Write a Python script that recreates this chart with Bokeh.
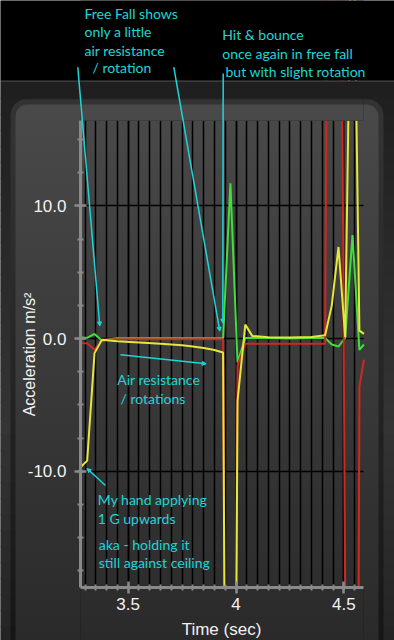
import math
from bokeh.plotting import figure
from bokeh.models import (Range1d, SingleIntervalTicker, PrintfTickFormatter,
                          CustomJSTickFormatter, Label, Arrow, NormalHead,
                          BoxAnnotation, Grid)
from bokeh.embed import file_html
from bokeh.resources import INLINE

# ---------------- data ----------------
time_s = [3.279, 3.310, 3.344, 3.378, 3.45, 3.55, 3.65, 3.75, 3.80, 3.85, 3.895,
          3.940, 3.974, 4.007, 4.043, 4.075, 4.15, 4.25, 4.35, 4.413, 4.444,
          4.475, 4.506, 4.540, 4.572, 4.593]
accel_red = [-0.35, -0.35, -0.85, -0.1, -0.05, -0.05, -0.05, -0.05, -0.05, -0.05, -0.05,
             -0.05, -100.0, -2.0, -0.4, -0.4, -0.4, -0.4, -0.4, -0.4, 90.0,
             68.0, -19.0, -150.0, -3.6, -1.6]
accel_green = [0.1, 0.05, 0.35, -0.15, 0.02, 0.02, 0.02, 0.02, 0.02, 0.02, 0.02,
               0.02, 11.7, -1.8, 0.05, 0.05, 0.05, 0.0, 0.05, 0.05, -0.45,
               -0.6, 0.05, 7.8, -0.85, -0.45]
accel_yellow = [-9.7, -9.2, -1.1, -0.1, -0.2, -0.3, -0.4, -0.5, -0.6, -0.72, -0.85,
                -1.05, -100.0, -4.7, 1.05, 0.2, 0.1, 0.08, 0.12, 0.25, 2.5,
                6.9, 0.1, 38.0, 0.6, 0.35]

x_label = "Time (sec)"
y_label = "Acceleration m/s\u00b2"

# ---------------- layout constants (page pixels) ----------------
W, H = 394, 640
FL, FR, FT, FB = 80, 363, 120, 587      # plot area on the page
X0, X1 = 3.279, 4.591                   # time shown in the plot area
Y0, Y1 = -18.76, 16.43                  # acceleration shown in the plot area


def dx(px):
    return X0 + (px - FL) * (X1 - X0) / (FR - FL)


def dy(py):
    return Y1 - (py - FT) * (Y1 - Y0) / (FB - FT)


p = figure(width=W, height=H, output_backend="svg", toolbar_location=None,
           x_range=Range1d(dx(0), dx(W)), y_range=Range1d(dy(H), dy(0)),
           min_border=0)
p.background_fill_color = "#1f1f1f"
p.border_fill_color = "#1f1f1f"
p.outline_line_color = None


# ---------------- background (page-pixel rectangles) ----------------
def gray(v):
    v = int(round(v))
    return "#%02x%02x%02x" % (v, v, v)


def ramp(stops, y):
    for (ya, va), (yb, vb) in zip(stops, stops[1:]):
        if y <= yb:
            f = max(0.0, (y - ya) / (yb - ya))
            return va + (vb - va) * f
    return stops[-1][1]


outer_stops = [(81, 30), (420, 52), (640, 36)]
inner_stops = [(104, 73), (640, 42)]

bg = [(0, W, 0, 80, "#000000", 0), (0, W, 80, 81.5, "#3b3b3b", 0)]
step = 16
y = 81.5
while y < H:
    bg.append((0, W, y, min(y + step + 1, H), gray(ramp(outer_stops, y + step / 2)), 0))
    y += step
bg.append((10, 383, 98.7, 131, gray(ramp(inner_stops, 110) - 22), (16, 16, 0, 0)))
y = 130
while y < H:
    bg.append((10, 383, y, min(y + step + 1, H),
               gray(ramp(inner_stops, y + step / 2) - 20), 0))
    y += step
bg.append((15, 378, 104, 121, gray(ramp(inner_stops, 112)), (12, 12, 0, 0)))
y = 120
while y < H:
    bg.append((15, 378, y, min(y + step + 1, H), gray(ramp(inner_stops, y + step / 2)), 0))
    y += step


def add_box(l, r, t, b, color, radius, level):
    p.add_layout(BoxAnnotation(left=dx(l), right=dx(r), top=dy(t), bottom=dy(b),
                               fill_color=color, fill_alpha=1.0, line_color=None,
                               level=level, border_radius=radius))


for spec in bg:
    add_box(*spec, level="image")

# ---------------- axes & grids ----------------
xt = SingleIntervalTicker(interval=0.5, num_minor_ticks=10)
yt = SingleIntervalTicker(interval=10, num_minor_ticks=4)
p.xaxis.ticker = xt
p.yaxis.ticker = yt
p.xaxis.formatter = CustomJSTickFormatter(code="return String(Math.round(tick*10)/10)")
p.yaxis.formatter = PrintfTickFormatter(format="%.1f")
p.xaxis.fixed_location = Y0
p.yaxis.fixed_location = X0
p.xaxis.bounds = (X0, X1)
p.yaxis.bounds = (Y0, Y1)

if "cross_bounds" in Grid.properties():
    p.xgrid.ticker = xt
    p.ygrid.ticker = yt
    p.xgrid.bounds = (X0, X1)
    p.ygrid.bounds = (Y0, Y1)
    p.xgrid.cross_bounds = (Y0, Y1)
    p.ygrid.cross_bounds = (X0, X1)
    p.xgrid.grid_line_color = "#000000"
    p.xgrid.grid_line_width = 1.5
    p.xgrid.minor_grid_line_color = "#000000"
    p.xgrid.minor_grid_line_width = 1.5
    p.ygrid.grid_line_color = "#000000"
    p.ygrid.grid_line_width = 1.5
else:
    p.xgrid.visible = False
    p.ygrid.visible = False
    gx = [round(3.30 + 0.05 * k, 2) for k in range(26)]
    p.segment(x0=gx, y0=Y0, x1=gx, y1=Y1, line_color="#000000", line_width=1.5,
              level="underlay")
    gy = [-10.0, 0.0, 10.0]
    p.segment(x0=X0, y0=gy, x1=X1, y1=gy, line_color="#000000", line_width=1.5,
              level="underlay")

axis_grey = "#8a8a8a"
for ax in (p.xaxis, p.yaxis):
    ax.level = "overlay"
    ax.axis_line_color = axis_grey
    ax.axis_line_width = 3
    ax.major_tick_line_color = axis_grey
    ax.major_tick_line_width = 2.5
    ax.major_tick_in = 6
    ax.major_tick_out = 6
    ax.minor_tick_line_color = axis_grey
    ax.minor_tick_line_width = 2
    ax.minor_tick_in = 3
    ax.minor_tick_out = 3
    ax.major_label_text_color = "#f2f2f2"
    ax.major_label_text_font = "Liberation Sans"
    ax.major_label_text_font_size = "17px"
p.yaxis.major_label_standoff = 8
p.xaxis.major_label_standoff = 4

# ---------------- data lines ----------------
p.line(time_s, accel_green, line_color="#3fe03a", line_width=2)
p.line(time_s, accel_red, line_color="#d0281e", line_width=2)
p.line(time_s, accel_yellow, line_color="#e6e63c", line_width=2)

# ---------------- masks: background again over the area outside the plot ----------------
for ml, mr, mt, mb in [(FL, FR, 0, FT), (FL, FR, FB, H)]:
    for (l, r, t, b, c, rad) in bg:
        il, ir, it, ib = max(l, ml), min(r, mr), max(t, mt), min(b, mb)
        if il < ir and it < ib:
            add_box(il, ir, it, ib, c, 0, level="annotation")

# ---------------- axis titles ----------------
p.add_layout(Label(x=dx(29), y=dy(354), text=y_label, angle=math.pi / 2,
                   text_align="center", text_baseline="middle",
                   text_color="#f2f2f2", text_font="Liberation Sans",
                   text_font_size="16px"))
p.add_layout(Label(x=dx(221), y=dy(629), text=x_label,
                   text_align="center", text_baseline="middle",
                   text_color="#f2f2f2", text_font="Liberation Sans",
                   text_font_size="17px"))

# ---------------- annotations ----------------
cyan = "#1fd4d8"
notes = [
    ("Free Fall shows", 84, 12.5),
    ("only a little", 84, 31),
    ("air resistance", 84, 49.5),
    ("/ rotation", 92, 67),
    ("Hit & bounce", 221.7, 34),
    ("once again in free fall", 221.7, 52.7),
    ("but with slight rotation", 225, 70.7),
    ("Air resistance", 116.7, 378.6),
    ("/ rotations", 120, 398),
    ("My hand applying", 97.3, 499.3),
    ("1 G upwards", 97.3, 518),
    ("aka - holding it", 98.3, 543.6),
    ("still against ceiling", 98.3, 562),
]
for txt, px, py in notes:
    p.add_layout(Label(x=dx(px), y=dy(py), text=txt, text_align="left",
                       text_baseline="middle", text_color=cyan,
                       text_font="Lato", text_font_size="14px"))

arrows = [
    (77.3, 66.7, 99.3, 325.5),
    (173.3, 66.7, 219.3, 330.7),
    (222.7, 73, 222.3, 322.7),
    (120, 354.3, 205.7, 363.3),
    (105, 485, 86.5, 468),
]
for x0, y0, x1, y1 in arrows:
    p.add_layout(Arrow(end=NormalHead(size=4, fill_color=cyan, line_color=cyan),
                       x_start=dx(x0), y_start=dy(y0), x_end=dx(x1), y_end=dy(y1),
                       line_color=cyan, line_width=1.5))

open("out.html", "w").write(file_html(p, INLINE))
